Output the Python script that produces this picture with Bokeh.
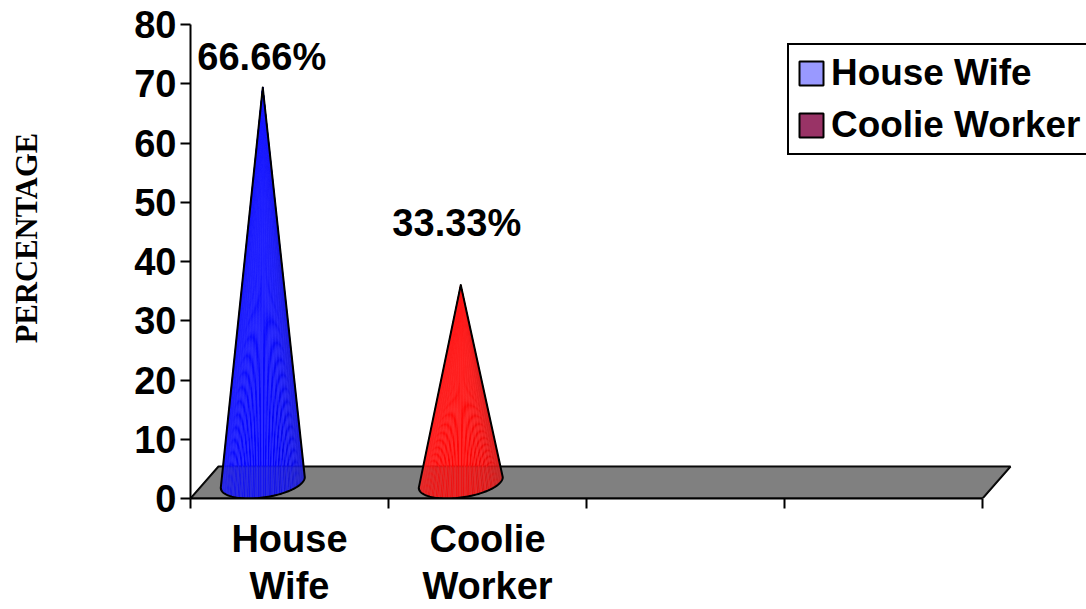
import numpy as np
from bokeh.core.properties import value
from bokeh.embed import file_html
from bokeh.models import FixedTicker, Legend, LegendItem, LinearAxis, Range1d
from bokeh.plotting import figure
from bokeh.resources import INLINE

# Chart content
categories = ["House\nWife", "Coolie\nWorker"]
series_names = ["House Wife", "Coolie Worker"]
percentages = [66.66, 33.33]
cone_colors = [(0, 0, 255), (255, 0, 0)]
legend_colors = ["#9999ff", "#993366"]
y_ticks = [0, 10, 20, 30, 40, 50, 60, 70, 80]
category_edges = [0, 1, 2, 3, 4]

# Layout of the pseudo-3D scene, in data units
FONT = "Liberation Sans"
DEPTH = 5.4                 # floor depth along y
FLOOR_SKEW = 0.1414         # floor depth along x
CONE_OFFSET = 0.365         # cone position within a category slot
BASE_A, BASE_S = 0.2, 0.0707
label_lift = [7.9, 13.1]
label_shift = [-0.005, -0.02]

p = figure(width=1086, height=609, output_backend="svg", toolbar_location=None,
           x_range=Range1d(0, 896 / 198), y_range=Range1d(0, 498 / 5.925),
           min_border_left=190, min_border_bottom=111, min_border_top=0, min_border_right=0,
           outline_line_color=None, background_fill_color="white", border_fill_color="white")
p.grid.visible = False

# Axes: the category labels sit on unmarked mid-slot ticks, the slot edges carry the tick marks
ax = p.xaxis[0]
ax.bounds = (0, 4)
ax.ticker = FixedTicker(ticks=[0.5, 1.5], minor_ticks=category_edges)
ax.major_label_overrides = {0.5: categories[0], 1.5: categories[1]}
ax.major_tick_out = 0
ax.major_tick_in = 0
ax.minor_tick_out = 10
ax.minor_tick_in = 0
ax.minor_tick_line_color = "black"
ax.minor_tick_line_width = 2
ax.axis_line_width = 2
ax.major_label_standoff = 9
ax.major_label_text_font = FONT
ax.major_label_text_font_style = "bold"
ax.major_label_text_font_size = "38px"
ax.major_label_text_line_height = 1.12
ax.major_label_text_color = "black"

ay = p.yaxis[0]
ay.bounds = (0, 80)
ay.ticker = FixedTicker(ticks=y_ticks)
ay.major_tick_out = 10
ay.major_tick_in = 0
ay.major_tick_line_width = 2
ay.axis_line_width = 2
ay.major_label_standoff = 4
ay.major_label_text_font = FONT
ay.major_label_text_font_style = "bold"
ay.major_label_text_font_size = "38px"
ay.major_label_text_color = "black"

# Axis title on its own bare axis; leading no-break spaces lift it above the frame's centre
title_axis = LinearAxis(axis_label="\u00a0\u00a0\u00a0PERCENTAGE", ticker=FixedTicker(ticks=[]),
                        axis_line_color=None, major_tick_line_color=None, minor_tick_line_color=None,
                        major_label_text_font_size="0px", axis_label_standoff=88,
                        axis_label_text_font="Liberation Serif", axis_label_text_font_style="bold",
                        axis_label_text_font_size="30.6px", axis_label_text_color="black")
p.add_layout(title_axis, "left")

floor_x = [0, FLOOR_SKEW, 4 + FLOOR_SKEW, 4]
floor_y = [0, DEPTH, DEPTH, 0]

# Grey floor of the 3D box
p.patch(floor_x, floor_y, fill_color="#808080", line_color="black", line_width=2)


def cone_base(center):
    """Front half of the skewed base ellipse, from right edge round to left edge."""
    t_right = -np.arctan2(BASE_S, BASE_A)
    t = np.linspace(t_right, t_right + np.pi, 73)
    return (center + BASE_A * np.cos(t) - BASE_S * np.sin(t),
            DEPTH / 2 - DEPTH / 2 * np.sin(t))


def draw_cone_body(center, height, rgb):
    """Shaded body built of thin wedges from the apex to the base."""
    apex_y = height + DEPTH / 2
    bx, by = cone_base(center)
    xs, ys, fills, lines = [], [], [], []
    n = len(bx) - 1
    for i in range(n):
        xs.append([center, bx[i], bx[i + 1]])
        ys.append([apex_y, by[i], by[i + 1]])
        f = i / (n - 1)                      # 0 at right edge, 1 at left edge
        shade = 0.72 + 0.28 * min(f / 0.45, 1.0) - 0.05 * max(f - 0.7, 0) / 0.3
        light = 0.09 if i % 3 == 0 else 0.0
        fills.append("#%02x%02x%02x" % tuple(int(min(255, c * shade + 255 * light)) for c in rgb))
        lines.append("#%02x%02x%02x" % tuple(int(min(255, c * shade + 30)) for c in rgb))
    p.patches(xs, ys, fill_color=fills, line_color=lines, line_width=0.4)


for i, (pct, rgb) in enumerate(zip(percentages, cone_colors)):
    draw_cone_body(i + CONE_OFFSET, pct, rgb)

# The floor tints the lower part of each cone
p.patch(floor_x, floor_y, fill_color="#808080", fill_alpha=0.14, line_color=None)

for i, pct in enumerate(percentages):
    center = i + CONE_OFFSET
    apex_y = pct + DEPTH / 2
    bx, by = cone_base(center)
    p.patch([center, *bx, center], [apex_y, *by, apex_y], fill_alpha=0,
            line_color="black", line_width=2, line_join="round")
    p.text([center + label_shift[i]], [pct + label_lift[i]], text=[f"{pct}%"],
           text_font=value(FONT), text_font_style="bold", text_font_size="38px",
           text_align="center", text_baseline="middle", text_color="black")

# Legend swatches
items = []
for name, col in zip(series_names, legend_colors):
    r = p.quad(left=[np.nan], right=[np.nan], top=[np.nan], bottom=[np.nan],
               fill_color=col, line_color="black", line_width=2)
    items.append(LegendItem(label=value(name), renderers=[r]))
legend = Legend(items=items, location=(597, 343), orientation="vertical",
                glyph_width=30, glyph_height=30, label_standoff=5, padding=7, spacing=10,
                margin=0, border_line_color="black", border_line_width=2, border_line_alpha=1,
                background_fill_color="white", background_fill_alpha=1,
                label_text_font=FONT, label_text_font_style="bold", label_text_font_size="36.9px",
                label_text_color="black")
p.add_layout(legend, "center")

open("out.html", "w").write(file_html(p, INLINE))
